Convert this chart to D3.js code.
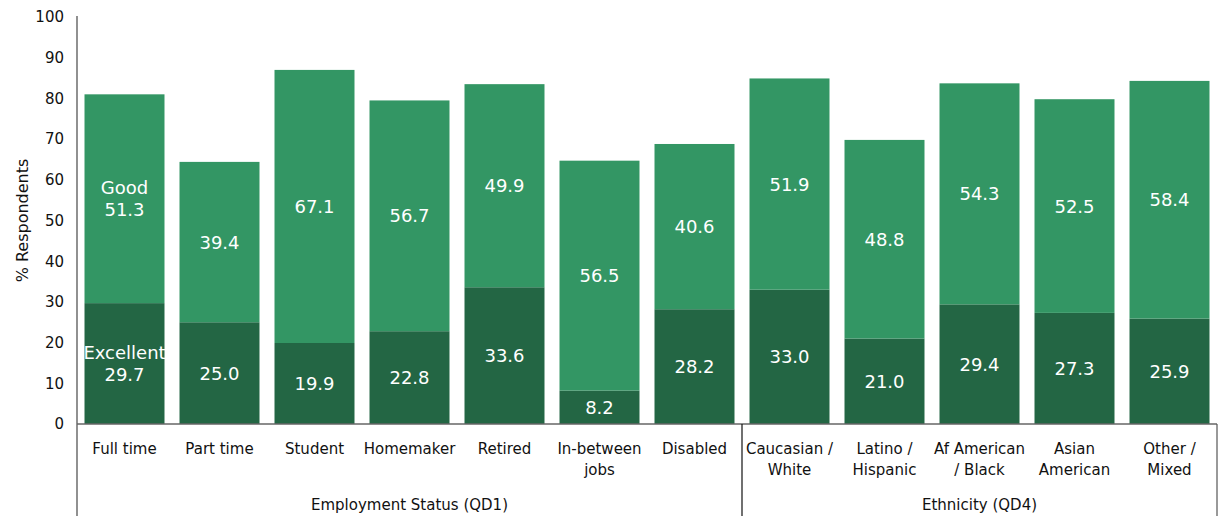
<!DOCTYPE html>
<html>
<head>
<meta charset="utf-8">
<script src="https://cdn.jsdelivr.net/npm/d3@7"></script>
<style>
  html, body { margin: 0; padding: 0; background: #fff; }
  svg { display: block; font-family: "DejaVu Sans", sans-serif; }
</style>
</head>
<body>
<svg id="chart" width="1221" height="525"></svg>
<script>
// Category labels (line breaks marked with \n)
const categories = [
  "Full time", "Part time", "Student", "Homemaker", "Retired",
  "In-between\njobs", "Disabled",
  "Caucasian /\nWhite", "Latino /\nHispanic", "Af American\n/ Black",
  "Asian\nAmerican", "Other /\nMixed"
];
const excellent = [29.7, 25.0, 19.9, 22.8, 33.6, 8.2, 28.2, 33.0, 21.0, 29.4, 27.3, 25.9];
const good      = [51.3, 39.4, 67.1, 56.7, 49.9, 56.5, 40.6, 51.9, 48.8, 54.3, 52.5, 58.4];
const groups = [
  { name: "Employment Status (QD1)", from: 0, to: 6 },
  { name: "Ethnicity (QD4)", from: 7, to: 11 }
];
const yTicks = [0, 10, 20, 30, 40, 50, 60, 70, 80, 90, 100];

const colors = { excellent: "#236644", good: "#339664" };

const svg = d3.select("#chart");
const mLeft = 77, mRight = 1217, mTop = 17, mBottom = 424, axisFoot = 516;

const x = d3.scaleBand()
  .domain(d3.range(categories.length))
  .range([mLeft, mRight])
  .paddingInner(0.158)
  .paddingOuter(0.079);

const y = d3.scaleLinear().domain([0, 100]).range([mBottom, mTop]);

// Stacked bars
const rows = categories.map((c, i) => ({ i, exc: excellent[i], good: good[i] }));

const g = svg.append("g");
g.selectAll("rect.exc").data(rows).join("rect")
  .attr("class", "exc")
  .attr("x", d => x(d.i)).attr("width", x.bandwidth())
  .attr("y", d => y(d.exc)).attr("height", d => y(0) - y(d.exc))
  .attr("fill", colors.excellent);

g.selectAll("rect.good").data(rows).join("rect")
  .attr("class", "good")
  .attr("x", d => x(d.i)).attr("width", x.bandwidth())
  .attr("y", d => y(d.exc + d.good)).attr("height", d => y(d.exc) - y(d.exc + d.good))
  .attr("fill", colors.good);

// Value labels inside segments; first bar carries the series names
function segLabel(lines, cx, cy) {
  const t = g.append("text")
    .attr("x", cx).attr("text-anchor", "middle")
    .attr("fill", "#fff").attr("font-size", 18);
  const lh = 22;
  const y0 = cy - (lines.length - 1) * lh / 2;
  lines.forEach((s, k) => {
    t.append("tspan").attr("x", cx).attr("y", y0 + k * lh).attr("dy", "0.36em").text(s);
  });
}
rows.forEach(d => {
  const cx = x(d.i) + x.bandwidth() / 2;
  const ex = d.exc.toFixed(1), gd = d.good.toFixed(1);
  segLabel(d.i === 0 ? ["Excellent", ex] : [ex], cx, y(d.exc / 2));
  segLabel(d.i === 0 ? ["Good", gd] : [gd], cx, y(d.exc + d.good / 2));
});

// Y axis
const yAxis = svg.append("g")
  .attr("transform", `translate(${mLeft},0)`)
  .call(d3.axisLeft(y).tickValues(yTicks).tickSize(0).tickPadding(13));
yAxis.select(".domain").remove();
yAxis.selectAll("text").attr("font-size", 15).attr("fill", "#111")
  .attr("font-family", "DejaVu Sans, sans-serif");

svg.append("line")
  .attr("x1", mLeft).attr("x2", mLeft).attr("y1", mTop - 1).attr("y2", axisFoot)
  .attr("stroke", "#555").attr("stroke-width", 1.3);

svg.append("text")
  .attr("transform", `translate(22,${(mTop + mBottom) / 2}) rotate(-90)`)
  .attr("text-anchor", "middle").attr("dy", "0.36em")
  .attr("font-size", 16).attr("fill", "#111")
  .text("% Respondents");

// Baseline
svg.append("line")
  .attr("x1", mLeft).attr("x2", mRight).attr("y1", mBottom).attr("y2", mBottom)
  .attr("stroke", "#666").attr("stroke-width", 1.3);

// Category labels
rows.forEach(d => {
  const cx = x(d.i) + x.bandwidth() / 2;
  const t = svg.append("text").attr("text-anchor", "middle")
    .attr("font-size", 15).attr("fill", "#111");
  categories[d.i].split("\n").forEach((s, k) => {
    t.append("tspan").attr("x", cx).attr("y", 454 + k * 21).text(s);
  });
});

// Group separators and names
const step = x.step();
groups.forEach(gr => {
  const x0 = gr.from === 0 ? mLeft : x(gr.from) - x.paddingInner() * step / 2;
  const x1 = gr.to === categories.length - 1 ? mRight : x(gr.to) + x.bandwidth() + x.paddingInner() * step / 2;
  if (gr.from !== 0) {
    svg.append("line").attr("x1", x0).attr("x2", x0).attr("y1", mBottom).attr("y2", axisFoot)
      .attr("stroke", "#111").attr("stroke-width", 1.2);
  }
  if (gr.to === categories.length - 1) {
    svg.append("line").attr("x1", x1).attr("x2", x1).attr("y1", mBottom).attr("y2", axisFoot)
      .attr("stroke", "#555").attr("stroke-width", 1.2);
  }
  svg.append("text").attr("x", (x0 + x1) / 2).attr("y", 510)
    .attr("text-anchor", "middle").attr("font-size", 15).attr("fill", "#111")
    .text(gr.name);
});
</script>
</body>
</html>
